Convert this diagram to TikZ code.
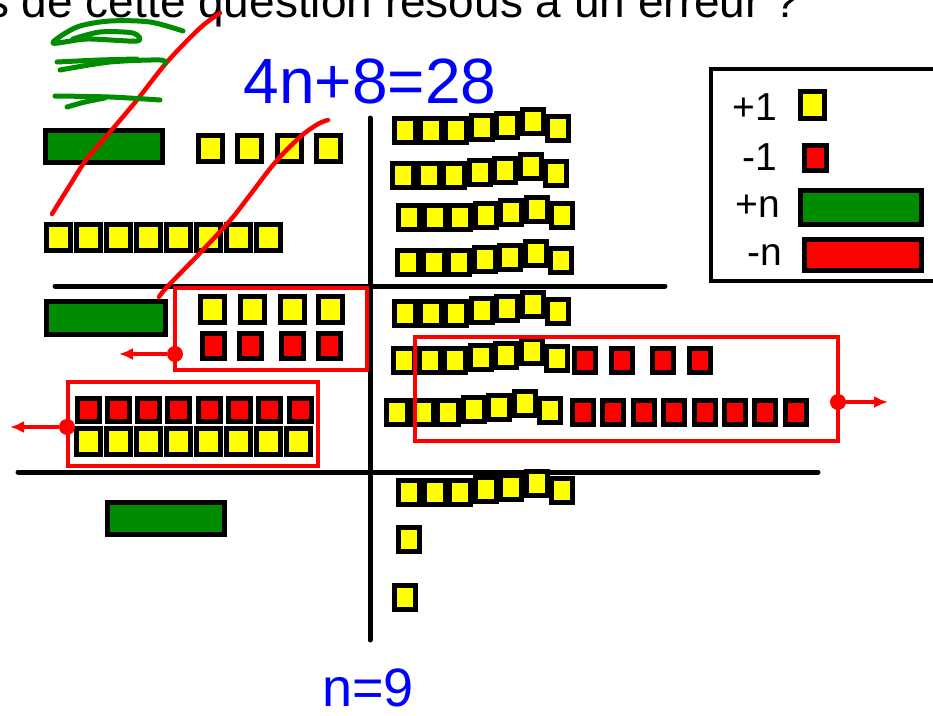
\documentclass[tikz,border=0pt]{standalone}
\usepackage{fontspec}
\setmainfont{Liberation Sans}
\usepackage{xcolor}
\definecolor{cubey}{RGB}{255,255,0}
\definecolor{cuber}{RGB}{255,0,0}
\definecolor{barg}{RGB}{0,140,0}
\definecolor{inkb}{RGB}{0,0,255}
\definecolor{inkr}{RGB}{255,0,0}
\usetikzlibrary{arrows.meta,positioning,calc}

\tikzset{
  unitp/.style={draw=black,line width=5pt,fill=cubey,inner sep=0pt,minimum width=24pt,minimum height=26pt},
  unitm/.style={unitp,fill=cuber},
  slimp/.style={unitp,minimum width=21pt,minimum height=24pt},
  slimm/.style={slimp,fill=cuber},
  barp/.style={draw=black,line width=5pt,fill=barg,inner sep=0pt,minimum width=117pt,minimum height=32pt},
  barm/.style={barp,fill=cuber},
  cutline/.style={line width=5pt,line cap=round},
  grpbox/.style={draw=inkr,line width=3.5pt,inner sep=0pt},
  pen/.style={inkr,line width=4.5pt,line cap=round,line join=round},
  scrib/.style={barg,line width=5pt,line cap=round,line join=round},
  pull/.style={inkr,line width=3.5pt,-{Latex[length=14pt,width=12pt]}},
  knob/.style={circle,fill=inkr,inner sep=0pt,minimum size=16pt},
  keytext/.style={anchor=base east,inner sep=0pt,font=\fontsize{39}{40}\selectfont},
}

\begin{document}
\begin{tikzpicture}[x=1pt,y=-1pt]
  \useasboundingbox (0,0) rectangle (933,715);
  \clip (0,0) rectangle (933,715);

  % question line, cut by the top of the page
  \node[anchor=base west,inner sep=0pt,font=\fontsize{46}{50}\selectfont] (qtext) at (-14,17) {s de cette question résous à un erreur ?};

  % equation and answer
  \node[inkb,anchor=base,inner sep=0pt,font=\fontsize{64}{70}\selectfont] (eqn) at (370,103) {4n+8=28};
  \node[inkb,anchor=base,inner sep=0pt,font=\fontsize{54}{60}\selectfont] (answer) at (368,706) {n=9};

  % legend
  \node[draw,line width=4pt,inner sep=0pt,minimum width=250pt,minimum height=212pt] (legend) at (836,175) {};
  \node[unitp,minimum height=27pt] (keyp1) at (812.5,105) {};
  \node[unitm,minimum width=22pt,minimum height=25pt] (keym1) at (815.5,158) {};
  \node[barp,minimum width=121pt,minimum height=34pt] (keypn) at (861,207.5) {};
  \node[barm,minimum width=117pt,minimum height=31pt] (keymn) at (863,255) {};
  \node[keytext] (labp1) at (777,120) {+1};
  \node[keytext] (labm1) at (777,170) {-1};
  \node[keytext] (labpn) at (780,217) {+n};
  \node[keytext] (labmn) at (782,265) {-n};

  % the two sides and the steps
  \coordinate (vtop) at (370,118);
  \coordinate (vbot) at (370,640);
  \coordinate (hal) at (55,286);
  \coordinate (har) at (665,286);
  \coordinate (hbl) at (18,472);
  \coordinate (hbr) at (818,472);
  \draw[cutline] (vtop) -- (vbot);
  \draw[cutline] (hal) -- (har);
  \draw[cutline] (hbl) -- (hbr);

  % left side, first step
  \node[barp] (gtop) at (104,146.5) {};
  \foreach \i/\x in {1/210,2/249.5,3/289.5,4/328.5}
    \node[unitp] (ytop\i) at (\x,148.5) {};
  \foreach \i in {1,...,8}
    \node[unitp] (yrow\i) at ({28+30*\i},237.5) {};

  % left side, second step
  \node[barp,minimum width=119pt,minimum height=33pt] (gmid) at (106,318) {};
  \foreach \i/\x in {1/212.5,2/252,3/292.5,4/330.5}
    \node[unitp] (yboxa\i) at (\x,309) {};
  \foreach \i/\x in {1/213.5,2/250.5,3/292.5,4/329}
    \node[unitm,minimum width=22pt,minimum height=25pt] (rboxa\i) at (\x,346) {};
  \foreach \i in {0,...,7}
    \node[unitm,minimum width=22pt,minimum height=23pt] (rboxb\i) at ({88+30.3*\i},410) {};
  \foreach \i in {0,...,7}
    \node[unitp] (yboxb\i) at ({88+30.1*\i},441.5) {};

  % left side, last step
  \node[barp] (gbot) at (166,518.5) {};

  % right side: rows of +1
  \foreach \r/\xo/\yo in {1/405/130,2/403/175,3/409/217.5,4/408/262,5/405/313,6/404/360,7/397/412,8/409/492}
    \foreach \i/\dy in {0/0,1/0,2/0,3/-2.5,4/-5,5/-8.5,6/-2}
      \node[slimp] (row\r-\i) at ({\xo+25.5*\i},{\yo+(\dy)}) {};
  \foreach \i/\x in {1/585,2/622,3/663,4/700}
    \node[slimm] (rsix\i) at (\x,360) {};
  \foreach \i in {0,...,7}
    \node[slimm] (rseven\i) at ({583+30.4*\i},412) {};
  \node[slimp] (lone1) at (408.5,539) {};
  \node[slimp] (lone2) at (405,597.5) {};

  % zero pairs taken away
  \node[grpbox,minimum width=192pt,minimum height=82pt] (boxa) at (271,329) {};
  \node[grpbox,minimum width=250pt,minimum height=84pt] (boxb) at (193,424) {};
  \node[grpbox,minimum width=423pt,minimum height=104pt] (boxc) at (626.5,389) {};
  \node[knob] (knoba) at (175,354) {};
  \node[knob] (knobb) at (67,427) {};
  \node[knob] (knobc) at (838,402) {};
  \coordinate (tipa) at (119,354);
  \coordinate (tipb) at (10,427);
  \coordinate (tipc) at (888,402);
  \draw[pull] (knoba) -- (tipa);
  \draw[pull] (knobb) -- (tipb);
  \draw[pull] (knobc) -- (tipc);

  % hand strokes
  \draw[pen] plot[smooth] coordinates {(52,214) (70,185) (86,160) (110,132) (137,100) (167,62) (200,28) (220,13)};
  \draw[pen] plot[smooth] coordinates {(159,297) (167,287) (200,253) (233,217) (273,165) (300,137) (318,124) (328,120)};
  \draw[scrib] plot[smooth] coordinates {(183,31) (150,22) (110,21) (77,27) (53,43) (87,39) (137,41) (133,33) (100,32) (73,39)};
  \draw[scrib] plot[smooth] coordinates {(57,62) (100,60) (137,59)};
  \draw[scrib] plot[smooth] coordinates {(60,70) (110,62) (160,60) (165,64)};
  \draw[scrib] plot[smooth] coordinates {(55,96) (110,97) (160,100)};
  \draw[scrib] plot[smooth] coordinates {(67,107) (85,102) (105,98)};
\end{tikzpicture}
\end{document}
